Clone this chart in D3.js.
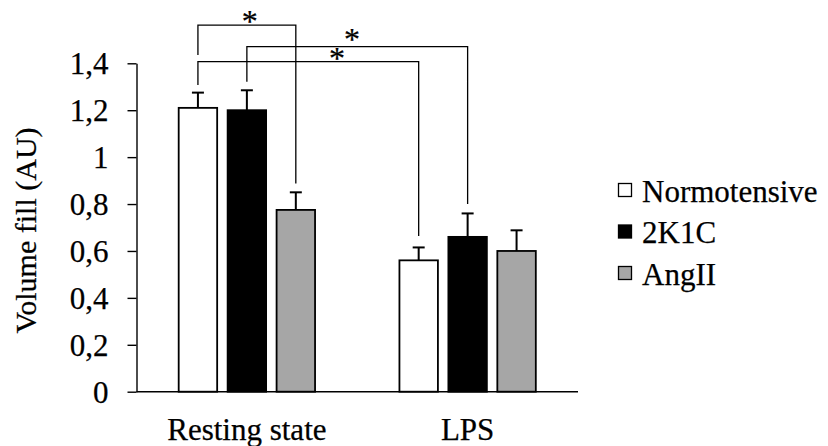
<!DOCTYPE html>
<html>
<head>
<meta charset="utf-8">
<script src="https://cdn.jsdelivr.net/npm/d3@7"></script>
<style>
  html, body { margin: 0; padding: 0; background: #fff; }
  svg { display: block; }
  text { font-family: "Liberation Serif", "Times New Roman", serif; fill: #000; stroke: #000; stroke-width: 0.25px; }
</style>
</head>
<body>
<svg id="chart" width="828" height="446"></svg>
<script>
// ---- data ----
const categories = ["Resting state", "LPS"];
const series = ["Normotensive", "2K1C", "AngII"];
const seriesColors = ["#ffffff", "#000000", "#a6a6a6"];
const normotensive = [1.21, 0.56];
const k2k1c = [1.20, 0.66];
const angII = [0.775, 0.60];
const normotensiveErr = [0.065, 0.055];
const k2k1cErr = [0.085, 0.10];
const angIIErr = [0.075, 0.088];
const yTicks = [0, 0.2, 0.4, 0.6, 0.8, 1.0, 1.2, 1.4];
const yTickLabels = ["0", "0,2", "0,4", "0,6", "0,8", "1", "1,2", "1,4"];
const yTitle = "Volume fill (AU)";
// significance brackets: [catIdx, seriesIdx] pairs, levels in data units
const bracketFrom = [[0, 0], [0, 1], [0, 0]];
const bracketTo = [[0, 2], [1, 1], [1, 0]];
const bracketTop = [1.563, 1.471, 1.407];
const bracketLeftEnd = [1.435, 1.321, 1.307];
const bracketRightEnd = [0.888, 0.80, 0.664];
const bracketStarPos = [0.53, 0.476, 0.63];
const bracketStarLevel = [1.593, 1.520, 1.435];

const values = [normotensive, k2k1c, angII];
const errors = [normotensiveErr, k2k1cErr, angIIErr];

const svg = d3.select("#chart");
const FS = 31;
const STAR_FS = 32;

const x0 = d3.scaleBand().domain(categories).range([136.5, 578]).paddingInner(0).paddingOuter(0);
const x1 = d3.scaleBand().domain(series).range([0, x0.bandwidth()]).paddingInner(0.214).paddingOuter(0.862);
const y = d3.scaleLinear().domain([0, 1.4]).range([391.7, 63.3]);

const cx = (c, s) => x0(categories[c]) + x1(series[s]) + x1.bandwidth() / 2;

// y axis
const yAxis = d3.axisLeft(y).tickValues(yTicks).tickSize(9).tickSizeOuter(0).tickPadding(19)
  .tickFormat((d, i) => yTickLabels[i]);
const gy = svg.append("g").attr("transform", "translate(136.5,0)").call(yAxis);
gy.attr("font-family", null).attr("font-size", null);
gy.select(".domain").attr("stroke", "#000").attr("stroke-width", 1.4);
gy.selectAll(".tick line").attr("stroke", "#000").attr("stroke-width", 1.4);
gy.selectAll(".tick text").attr("font-size", FS).attr("fill", "#000").attr("dy", "0.34em");

// bars
const groups = svg.append("g").selectAll("g").data(categories).join("g")
  .attr("transform", d => `translate(${x0(d)},0)`);
series.forEach((s, si) => {
  groups.append("rect")
    .attr("x", x1(s))
    .attr("y", (d, ci) => y(values[si][ci]))
    .attr("width", x1.bandwidth())
    .attr("height", (d, ci) => y(0) - y(values[si][ci]))
    .attr("fill", seriesColors[si])
    .attr("stroke", "#000")
    .attr("stroke-width", 1.8);
  const cxs = x1(s) + x1.bandwidth() / 2;
  groups.append("line")
    .attr("x1", cxs).attr("x2", cxs)
    .attr("y1", (d, ci) => y(values[si][ci]))
    .attr("y2", (d, ci) => y(values[si][ci] + errors[si][ci]))
    .attr("stroke", "#000").attr("stroke-width", 2);
  groups.append("line")
    .attr("x1", cxs - 6).attr("x2", cxs + 6)
    .attr("y1", (d, ci) => y(values[si][ci] + errors[si][ci]))
    .attr("y2", (d, ci) => y(values[si][ci] + errors[si][ci]))
    .attr("stroke", "#000").attr("stroke-width", 2);
});

// x axis line
svg.append("line")
  .attr("x1", x0.range()[0]).attr("x2", x0.range()[1])
  .attr("y1", y(0)).attr("y2", y(0))
  .attr("stroke", "#000").attr("stroke-width", 1.6);

// x labels
svg.append("g").selectAll("text").data(categories).join("text")
  .attr("x", d => x0(d) + x0.bandwidth() / 2)
  .attr("y", 440)
  .attr("text-anchor", "middle")
  .attr("font-size", FS)
  .text(d => d);

// y title
svg.append("text")
  .attr("transform", "translate(36,230.5) rotate(-90)")
  .attr("text-anchor", "middle")
  .attr("font-size", 30)
  .text(yTitle);

// brackets
const bg = svg.append("g");
bracketFrom.forEach((f, i) => {
  const t = bracketTo[i];
  const xa = cx(f[0], f[1]), xb = cx(t[0], t[1]);
  const yt = y(bracketTop[i]);
  bg.append("path")
    .attr("d", `M${xa},${y(bracketLeftEnd[i])}V${yt}H${xb}V${y(bracketRightEnd[i])}`)
    .attr("fill", "none").attr("stroke", "#000").attr("stroke-width", 1.3);
  bg.append("text")
    .attr("x", xa + (xb - xa) * bracketStarPos[i])
    .attr("y", y(bracketStarLevel[i]) + STAR_FS * 0.45)
    .attr("text-anchor", "middle")
    .attr("font-size", STAR_FS)
    .text("*");
});

// legend
const legend = svg.append("g").attr("transform", "translate(618,183)");
series.forEach((s, i) => {
  const g = legend.append("g").attr("transform", `translate(0,${i * 41.5})`);
  g.append("rect").attr("x", 0.5).attr("y", 0.5).attr("width", 13).attr("height", 13)
    .attr("fill", seriesColors[i]).attr("stroke", "#000").attr("stroke-width", 1.3);
  g.append("text").attr("x", 24).attr("y", 18.5).attr("font-size", FS).text(s);
});
</script>
</body>
</html>
